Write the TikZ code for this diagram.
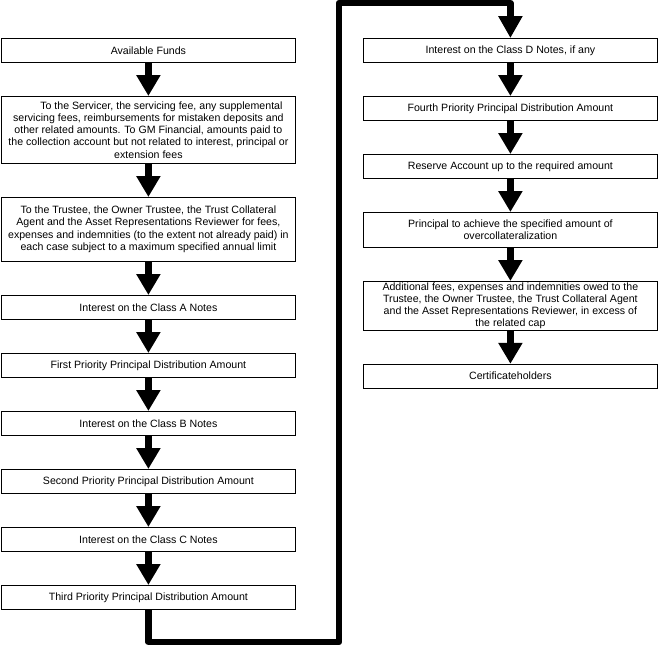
\documentclass[tikz,border=0pt]{standalone}
\usepackage{fontspec}
\setmainfont{Liberation Sans}
\usetikzlibrary{positioning, arrows.meta}

\begin{document}
\begin{tikzpicture}[
    x=1pt, y=-1pt,
    node distance=33.2pt,
    box/.style={rectangle, draw=black, line width=0.8pt, minimum width=294pt,
                minimum height=24pt, align=center, inner sep=1pt,
                font=\fontsize{10.6}{12.3}\selectfont},
    flow/.style={line width=7pt, -{Triangle[width=23pt, length=21pt]}},
    loop/.style={line width=6.5pt, line join=round, -{Triangle[width=23pt, length=22pt]}}
  ]
    \useasboundingbox (0,0) rectangle (660,646);

    % left column
    \node[box, anchor=north west] (funds) at (1,38) {Available Funds};
    \node[box, below=of funds, minimum height=67pt] (servicer)
      {\hspace*{26pt}To the Servicer, the servicing fee, any supplemental\\
       servicing fees, reimbursements for mistaken deposits and\\
       other related amounts. To GM Financial, amounts paid to\\
       the collection account but not related to interest, principal or\\
       extension fees};
    \node[box, below=of servicer, minimum height=64pt] (trustee)
      {To the Trustee, the Owner Trustee, the Trust Collateral\\
       Agent and the Asset Representations Reviewer for fees,\\
       expenses and indemnities (to the extent not already paid) in\\
       each case subject to a maximum specified annual limit};
    \node[box, below=of trustee]  (classa) {Interest on the Class A Notes};
    \node[box, below=of classa]   (first)  {First Priority Principal Distribution Amount};
    \node[box, below=of first]    (classb) {Interest on the Class B Notes};
    \node[box, below=of classb]   (second) {Second Priority Principal Distribution Amount};
    \node[box, below=of second]   (classc) {Interest on the Class C Notes};
    \node[box, below=of classc]   (third)  {Third Priority Principal Distribution Amount};

    % right column
    \node[box, anchor=north west] (classd) at (363,38) {Interest on the Class D Notes, if any};
    \node[box, below=of classd]   (fourth)  {Fourth Priority Principal Distribution Amount};
    \node[box, below=of fourth]   (reserve) {Reserve Account up to the required amount};
    \node[box, below=of reserve, minimum height=35pt] (overcoll)
      {Principal to achieve the specified amount of\\ overcollateralization};
    \node[box, below=of overcoll, minimum height=47pt] (addfees)
      {Additional fees, expenses and indemnities owed to the\\
       Trustee, the Owner Trustee, the Trust Collateral Agent\\
       and the Asset Representations Reviewer, in excess of\\
       the related cap};
    \node[box, below=of addfees] (certs) {Certificateholders};

    \coordinate (loopbl) at (339,642);
    \coordinate (looptr) at (339,3);

    \draw[flow] (funds)    -- (servicer);
    \draw[flow] (servicer) -- (trustee);
    \draw[flow] (trustee)  -- (classa);
    \draw[flow] (classa)   -- (first);
    \draw[flow] (first)    -- (classb);
    \draw[flow] (classb)   -- (second);
    \draw[flow] (second)   -- (classc);
    \draw[flow] (classc)   -- (third);
    \draw[loop] (third.south) |- (loopbl) -- (looptr) -| (classd.north);
    \draw[flow] (classd)   -- (fourth);
    \draw[flow] (fourth)   -- (reserve);
    \draw[flow] (reserve)  -- (overcoll);
    \draw[flow] (overcoll) -- (addfees);
    \draw[flow] (addfees)  -- (certs);
\end{tikzpicture}
\end{document}
